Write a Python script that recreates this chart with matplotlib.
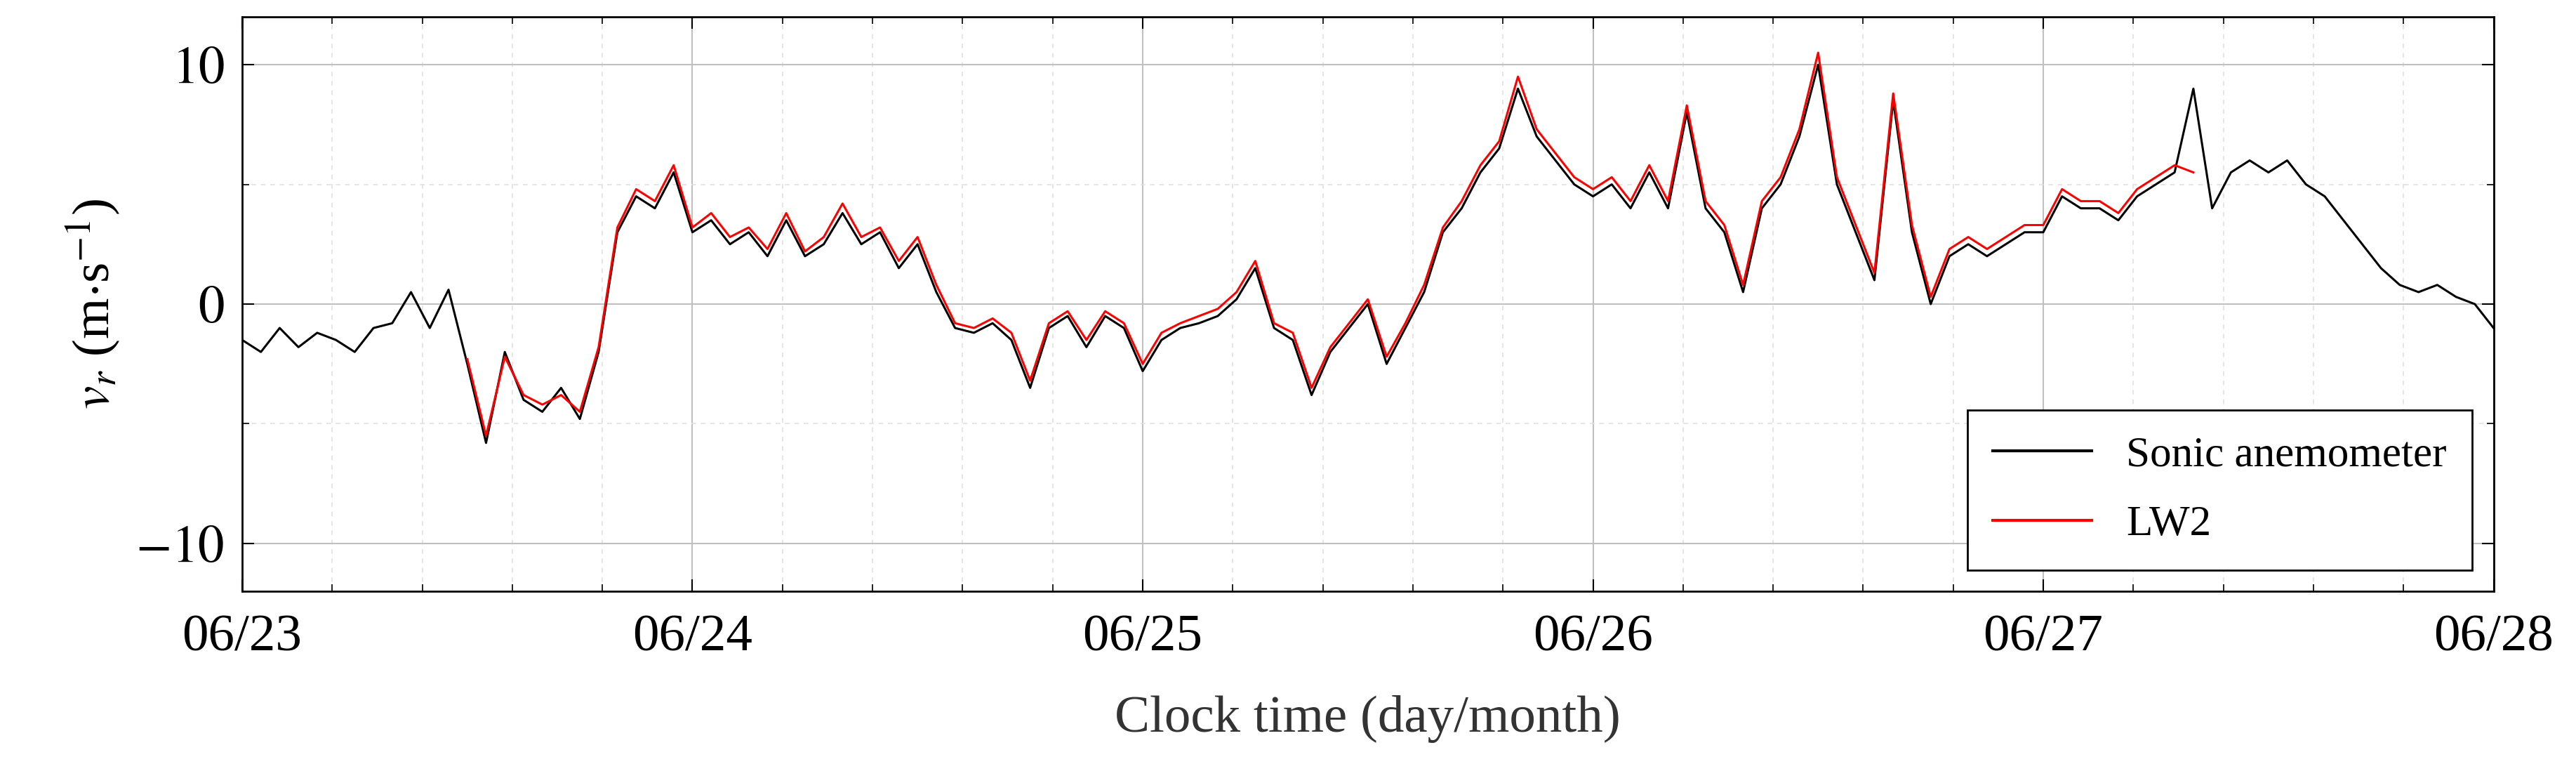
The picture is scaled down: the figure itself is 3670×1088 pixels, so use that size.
import matplotlib
matplotlib.use("Agg")
import matplotlib.pyplot as plt
import numpy as np

sonic_hours = list(range(0, 121))
sonic_vals = [-1.5,-2,-1,-1.8,-1.2,-1.5,-2,-1,-0.8,0.5,-1,0.6,
              -2.5,-5.8,-2,-4,-4.5,-3.5,-4.8,-2,3,4.5,4,5.5,3,
              3.5,2.5,3,2,3.5,2,2.5,3.8,2.5,3,1.5,2.5,0.5,-1,-1.2,-0.8,-1.5,-3.5,-1,-0.5,-1.8,-0.5,-1,
              -2.8,-1.5,-1,-0.8,-0.5,0.2,1.5,-1,-1.5,-3.8,-2,-1,0,-2.5,-1,0.5,3,4,5.5,6.5,9,7,6,5,
              4.5,5,4,5.5,4,8,4,3,0.5,4,5,7,10,5,3,1,8.5,3,0,2,2.5,2,2.5,3,
              3,4.5,4,4,3.5,4.5,5,5.5,9,4,5.5,6,5.5,6,5,4.5,3.5,2.5,1.5,0.8,0.5,0.8,0.3,0,-1]
lw2_hours = list(range(12, 105))
lw2_vals = [-2.3,-5.5,-2.2,-3.8,-4.2,-3.8,-4.5,-1.8,3.2,4.8,4.3,5.8,3.2,
            3.8,2.8,3.2,2.3,3.8,2.2,2.8,4.2,2.8,3.2,1.8,2.8,0.8,-0.8,-1,-0.6,-1.2,-3.2,-0.8,-0.3,-1.5,-0.3,-0.8,
            -2.5,-1.2,-0.8,-0.5,-0.2,0.5,1.8,-0.8,-1.2,-3.5,-1.8,-0.8,0.2,-2.2,-0.8,0.8,3.2,4.3,5.8,6.8,9.5,7.3,6.3,5.3,
            4.8,5.3,4.3,5.8,4.3,8.3,4.3,3.3,0.8,4.3,5.3,7.3,10.5,5.3,3.3,1.3,8.8,3.3,0.3,2.3,2.8,2.3,2.8,3.3,
            3.3,4.8,4.3,4.3,3.8,4.8,5.3,5.8,5.5]
tick_labels = ["06/23","06/24","06/25","06/26","06/27","06/28"]

plt.rcParams['font.family'] = ['Liberation Serif', 'DejaVu Serif']
plt.rcParams['mathtext.fontset'] = 'stix'
fig = plt.figure(figsize=(36.7, 10.88), dpi=100)
ax = fig.add_axes([0.094, 0.226, 0.874, 0.752])
ax.plot(np.array(sonic_hours)/24, sonic_vals, color='black', lw=2.2, label='Sonic anemometer')
ax.plot(np.array(lw2_hours)/24, lw2_vals, color='red', lw=2.2, label='LW2')
ax.set_xlim(0, 5)
ax.set_ylim(-12, 12)
ax.set_xticks(range(6))
ax.set_xticklabels(tick_labels)
ax.set_xticks(np.arange(0, 5.01, 0.2), minor=True)
ax.set_yticks([-10, 0, 10])
ax.set_yticks([-5, 5], minor=True)
ax.set_yticklabels([r'$-10$', r'$0$', r'$10$'])
ax.grid(True, which='major', color='#c0c0c0', lw=1.5)
ax.grid(True, which='minor', color='#e0e0e0', lw=1.2, ls=(0, (4, 4)))
ax.set_axisbelow(True)
ax.tick_params(which='both', direction='in', top=True, right=True, labelsize=54, pad=18)
ax.tick_params(axis='x', which='major', pad=24)
ax.tick_params(which='major', length=12, width=1.5)
ax.tick_params(which='minor', length=7, width=1.2)
for s in ax.spines.values():
    s.set_linewidth(2)
ax.set_xlabel('Clock time (day/month)', fontsize=54, labelpad=34, color='#333333')
ax.set_ylabel(r'$v_r$ (m$\cdot$s$^{-1}$)', fontsize=54, labelpad=14)
leg = ax.legend(loc='lower right', fontsize=44, fancybox=False, edgecolor='black', framealpha=1,
                handlelength=2.3, borderpad=0.6, labelspacing=0.7)
leg.get_frame().set_linewidth(2)
for l in leg.get_lines():
    l.set_linewidth(3)
fig.savefig('out.png', dpi=100)
